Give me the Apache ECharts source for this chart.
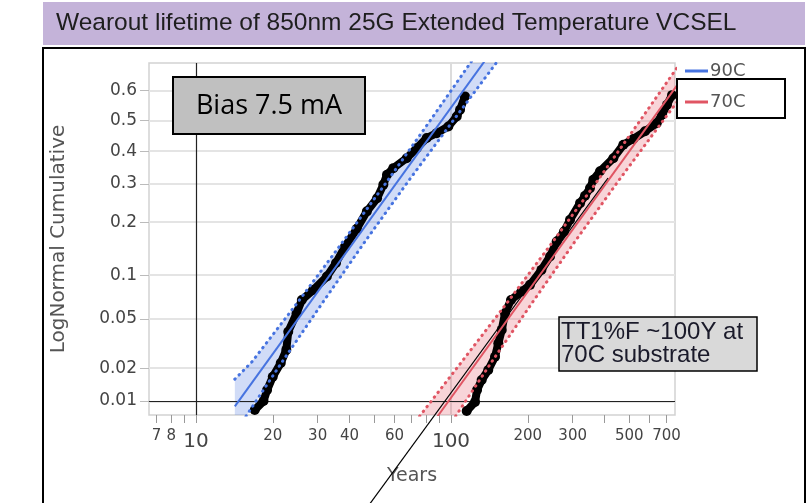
<!DOCTYPE html>
<html>
<head>
<meta charset="utf-8">
<style>
  * { margin: 0; padding: 0; }
  html, body { background: #fff; }
  #container { width: 812px; height: 503px; }
</style>
<script src="https://cdn.jsdelivr.net/npm/echarts@6/dist/echarts.min.js"></script>
</head>
<body>
<div id="container"></div>
<script>
// unit failures: [years, cumulative fraction]
const units90 = [[17.0,0.0082],[18.4,0.0100],[19.0,0.0127],[20.0,0.0168],[21.5,0.0222],[22.6,0.0286],
  [23.0,0.040],[24.8,0.055],[26.0,0.0685],[28.8,0.080],[32.6,0.098],[35.4,0.119],[38.4,0.148],
  [42.7,0.185],[46.8,0.226],[51.3,0.260],[54.3,0.298],[56.1,0.327],[59.4,0.347],[67.0,0.378],
  [73.4,0.410],[80.3,0.443],[87.9,0.459],[97.6,0.481],[105.3,0.514],[108.5,0.536],[113.4,0.580]];
const units70 = [[115.2,0.0080],[124.2,0.0098],[126.5,0.0127],[131.9,0.0157],[140.0,0.0193],[148.8,0.0251],
  [153.3,0.0324],[158.1,0.0413],[162.9,0.0551],[171.9,0.0685],[189.0,0.0781],[204.1,0.0866],
  [226.3,0.1079],[244.5,0.130],[259.7,0.158],[277.4,0.179],[292.9,0.2055],[320.6,0.247],
  [335.4,0.267],[350.9,0.288],[361.4,0.312],[384.0,0.3375],[433.0,0.378],[474.0,0.421],
  [518.7,0.440],[576.6,0.465],[640.9,0.492],[672.2,0.520],[703.3,0.553],[735.8,0.584]];

// fitted lognormal lines (end points)
const fit90 = [[14.2,0.0089],[141.6,0.709]];
const fit70 = [[88.6,0.0071],[774,0.618]];

// confidence band edges
const band90Lo = [[14.2,0.0071],[14.2,0.016],[16.6,0.0228],[25.2,0.0668],[37.8,0.1587],[56.3,0.3085],[82.8,0.5],[121,0.6915]];
const band90Hi = [[15.7,0.0071],[21.8,0.0228],[31.6,0.0668],[46.1,0.1587],[68.1,0.3085],[101.9,0.5],[153,0.6915]];
const band70Lo = [[75.3,0.0071],[110.3,0.0228],[167.4,0.0668],[251.7,0.1587],[374.9,0.3085],[551,0.5],[806,0.6915]];
const band70Hi = [[104.2,0.0071],[144.6,0.0228],[209.8,0.0668],[306.9,0.1587],[453.2,0.3085],[678.3,0.5],[1020,0.6915]];

const yTicks = [0.01, 0.02, 0.05, 0.1, 0.2, 0.3, 0.4, 0.5, 0.6];
const xLabels = [7, 8, 10, 20, 30, 40, 60, 100, 200, 300, 500, 700];
const xTicks = [7, 8, 9, 10, 20, 30, 40, 50, 60, 70, 80, 90, 100, 200, 300, 400, 500, 600, 700];

const BLUE = '#4673e0', RED = '#e05563';

// inverse normal cdf (Acklam) -> lognormal probability scale
function probit(p) {
  const a = [-3.969683028665376e+01, 2.209460984245205e+02, -2.759285104469687e+02, 1.383577518672690e+02, -3.066479806614716e+01, 2.506628277459239e+00];
  const b = [-5.447609879822406e+01, 1.615858368580409e+02, -1.556989798598866e+02, 6.680131188771972e+01, -1.328068155288572e+01];
  const c = [-7.784894002430293e-03, -3.223964580411365e-01, -2.400758277161838e+00, -2.549732539343734e+00, 4.374664141464968e+00, 2.938163982698783e+00];
  const d = [7.784695709041462e-03, 3.224671290700398e-01, 2.445134137142996e+00, 3.754408661907416e+00];
  let q, r;
  if (p < 0.02425) {
    q = Math.sqrt(-2 * Math.log(p));
    return (((((c[0]*q+c[1])*q+c[2])*q+c[3])*q+c[4])*q+c[5]) / ((((d[0]*q+d[1])*q+d[2])*q+d[3])*q+1);
  }
  if (p > 1 - 0.02425) {
    q = Math.sqrt(-2 * Math.log(1 - p));
    return -(((((c[0]*q+c[1])*q+c[2])*q+c[3])*q+c[4])*q+c[5]) / ((((d[0]*q+d[1])*q+d[2])*q+d[3])*q+1);
  }
  q = p - 0.5; r = q * q;
  return (((((a[0]*r+a[1])*r+a[2])*r+a[3])*r+a[4])*r+a[5])*q / (((((b[0]*r+b[1])*r+b[2])*r+b[3])*r+b[4])*r+1);
}
const toXY = d => [Math.log10(d[0]), probit(d[1])];

function bandSeries(lo, hi, fill) {
  const poly = lo.map(toXY).concat(hi.map(toXY).reverse());
  return {
    type: 'custom', clip: true, silent: true, z: 1,
    data: [[1, 0]],
    renderItem: (params, api) => ({
      type: 'polygon',
      shape: { points: poly.map(pt => api.coord(pt)) },
      style: { fill: fill }
    })
  };
}
function dotted(data, color) {
  return {
    type: 'line', data: data.map(toXY), symbol: 'none', z: 4, silent: true,
    lineStyle: { color: color, width: 3, type: [0.5, 5.5], cap: 'round' }
  };
}
function units(data) {
  return {
    type: 'line', data: data.map(toXY), z: 3, silent: true,
    symbol: 'circle', symbolSize: 10, showAllSymbol: true,
    itemStyle: { color: '#000' },
    lineStyle: { color: '#000', width: 8, join: 'round' }
  };
}
function fitLine(name, data, color) {
  return {
    name: name, type: 'line', data: data.map(toXY), symbol: 'none', z: 5, silent: true,
    lineStyle: { color: color, width: 2 }
  };
}

const xMin = 0.8157, xMax = 2.8784, yMin = -2.442, yMax = 0.479;
const axisFont = 'DejaVu Sans';

const chart = echarts.init(document.getElementById('container'));
chart.setOption({
  animation: false,
  grid: { left: 149, top: 63, right: 137, bottom: 88, show: true, borderColor: '#d2d2d2', borderWidth: 1.5 },
  xAxis: {
    type: 'value', min: xMin, max: xMax,
    name: 'Years', nameLocation: 'middle', nameGap: 52,
    nameTextStyle: { fontFamily: axisFont, fontSize: 19, color: '#555' },
    axisLine: { show: false, onZero: false },
    splitLine: { show: false },
    axisTick: { show: true, length: 8, customValues: xTicks.map(v => Math.log10(v)), lineStyle: { color: '#999' } },
    axisLabel: {
      customValues: xLabels.map(v => Math.log10(v)),
      fontFamily: axisFont, fontSize: 15, color: '#444', margin: 14,
      formatter: v => {
        const n = Math.round(Math.pow(10, v));
        return (n === 10 || n === 100) ? '{big|' + n + '}' : String(n);
      },
      rich: { big: { fontFamily: axisFont, fontSize: 20, color: '#444', padding: [3, 0, 0, 0] } }
    }
  },
  yAxis: {
    type: 'value', min: yMin, max: yMax,
    name: 'LogNormal Cumulative', nameLocation: 'middle', nameGap: 80, nameRotate: 90,
    nameTextStyle: { fontFamily: axisFont, fontSize: 20, color: '#555' },
    axisLine: { show: false, onZero: false },
    splitLine: { show: false },
    axisTick: { show: true, length: 9, customValues: yTicks.map(probit), lineStyle: { color: '#bbb' } },
    axisLabel: {
      customValues: yTicks.map(probit),
      fontFamily: axisFont, fontSize: 17, color: '#444', margin: 12,
      formatter: v => {
        const p = yTicks.find(t => Math.abs(probit(t) - v) < 1e-6);
        return p === undefined ? '' : String(p);
      }
    }
  },
  legend: {
    orient: 'vertical', left: 680, top: 57, itemWidth: 23, itemHeight: 3, itemGap: 13,
    icon: 'rect', selectedMode: false,
    textStyle: { fontFamily: axisFont, fontSize: 18, color: '#555', padding: [0, 0, 0, -3] },
    data: [{ name: '90C', itemStyle: { color: BLUE } }, { name: '70C', itemStyle: { color: RED } }]
  },
  series: [
    {
      type: 'line', data: [], silent: true, z: 0,
      markLine: {
        silent: true, symbol: 'none', label: { show: false }, animation: false, z: 0,
        data: yTicks.map(p => ({ yAxis: probit(p), lineStyle: { color: '#e4e4e4', width: 2, type: 'solid' } }))
          .concat([{ xAxis: 2, lineStyle: { color: '#dcdcdc', width: 2, type: 'solid' } }])
      }
    },
    {
      type: 'line', data: [], silent: true, z: 2,
      markLine: {
        silent: true, symbol: 'none', label: { show: false }, animation: false, z: 2,
        lineStyle: { color: '#222', width: 1.2, type: 'solid' },
        data: [{ xAxis: 1 }, { yAxis: probit(0.01) }]
      }
    },
    bandSeries(band90Lo, band90Hi, 'rgba(90,130,225,0.28)'),
    bandSeries(band70Lo, band70Hi, 'rgba(230,100,115,0.28)'),
    units(units90),
    units(units70),
    dotted(band90Lo.slice(1), BLUE),
    dotted(band90Hi, BLUE),
    dotted(band70Lo, RED),
    dotted(band70Hi, RED),
    fitLine('90C', fit90, BLUE),
    fitLine('70C', fit70, RED)
  ],
  graphic: [
    { type: 'rect', z: 100, shape: { x: 43, y: 2, width: 762, height: 43 }, style: { fill: '#c4b3d9' } },
    { type: 'text', z: 101, x: 56, y: 23, style: { text: 'Wearout lifetime of 850nm 25G Extended Temperature VCSEL', font: '24.5px "Liberation Sans"', fill: '#1e1e1e', verticalAlign: 'middle' } },
    { type: 'rect', z: 100, shape: { x: 43, y: 48, width: 762, height: 470 }, style: { fill: 'none', stroke: '#000', lineWidth: 2 } },
    { type: 'rect', z: 100, shape: { x: 173, y: 77, width: 192, height: 57 }, style: { fill: '#c0c0c0', stroke: '#000', lineWidth: 2 } },
    { type: 'text', z: 101, x: 269, y: 106, style: { text: 'Bias 7.5 mA', font: '27px "Open Sans"', fill: '#000', align: 'center', verticalAlign: 'middle' } },
    { type: 'rect', z: 100, shape: { x: 559, y: 317, width: 198, height: 54 }, style: { fill: '#d9d9d9', stroke: '#000', lineWidth: 1.5 } },
    { type: 'text', z: 101, x: 561, y: 344, style: { text: 'TT1%F ~100Y at\n70C substrate', font: '24px "Liberation Sans"', lineHeight: 23, fill: '#1a1a2a', verticalAlign: 'middle' } },
    { type: 'rect', z: 100, shape: { x: 677, y: 79, width: 108, height: 39 }, style: { fill: 'none', stroke: '#000', lineWidth: 2 } },
    { type: 'line', z: 100, shape: { x1: 608, y1: 178, x2: 369, y2: 505 }, style: { stroke: '#000', lineWidth: 1.2 } }
  ]
});
</script>
</body>
</html>
